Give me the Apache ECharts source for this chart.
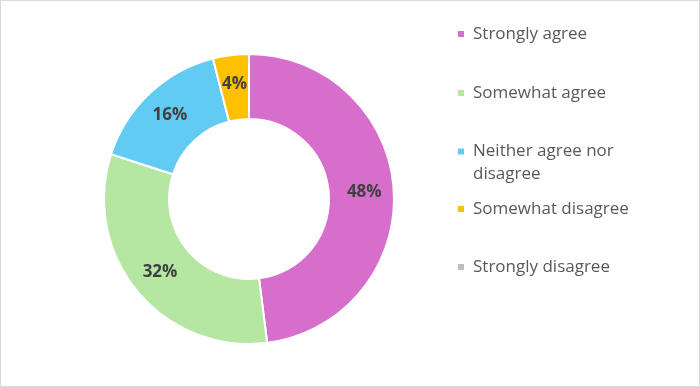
<!DOCTYPE html>
<html>
<head>
<meta charset="utf-8">
<script src="https://cdn.jsdelivr.net/npm/echarts@6/dist/echarts.min.js"></script>
<style>
  html, body { margin: 0; padding: 0; background: #fff; }
  #chart { width: 700px; height: 387px; box-sizing: border-box; border: 1px solid #D9D9D9; }
</style>
</head>
<body>
<div id="chart"></div>
<script>
const categories = ['Strongly agree', 'Somewhat agree', 'Neither agree nor disagree', 'Somewhat disagree', 'Strongly disagree'];
const values = [48, 32, 16, 4, 0];
const colors = ['#D86ECC', '#B5E6A2', '#61CBF4', '#FFC000', '#BFBFBF'];
const legendCenters = [34, 93, 151.5, 209, 267];

const FONT = 'Open Sans';
const chart = echarts.init(document.getElementById('chart'), null, { renderer: 'canvas' });

const legends = categories.map(function (name, i) {
  const twoLine = name === 'Neither agree nor disagree';
  const lh = 23;
  const h = twoLine ? lh * 3 : lh;
  return {
    data: [name],
    orient: 'vertical',
    left: 455,
    top: legendCenters[i] - h / 2 - 1,
    padding: 0,
    itemWidth: 8,
    itemHeight: 8,
    icon: 'rect',
    selectedMode: true,
    formatter: function (n) {
      return n === 'Neither agree nor disagree' ? '\nNeither agree nor\ndisagree' : n;
    },
    textStyle: {
      fontFamily: FONT,
      fontSize: 17,
      color: '#595959',
      lineHeight: lh,
      padding: [0, 0, 0, 3]
    }
  };
});

chart.setOption({
  animation: false,
  color: colors,
  legend: legends,
  series: [{
    type: 'pie',
    center: [248, 198],
    radius: [80, 145],
    startAngle: 90,
    clockwise: true,
    avoidLabelOverlap: false,
    stillShowZeroSum: true,
    minAngle: 0,
    itemStyle: { borderColor: '#ffffff', borderWidth: 2 },
    label: {
      show: true,
      position: 'inside',
      formatter: function (p) { return p.value > 0 ? p.value + '%' : ''; },
      fontFamily: FONT,
      fontSize: 17,
      fontWeight: 'bold',
      color: '#404040'
    },
    labelLine: { show: false },
    emphasis: { scale: false },
    data: categories.map(function (c, i) { return { name: c, value: values[i] }; })
  }]
});
</script>
</body>
</html>
